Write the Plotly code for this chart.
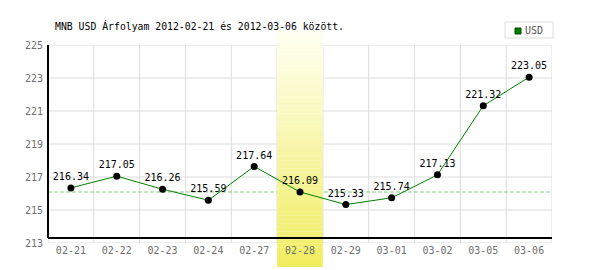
import plotly.graph_objects as go

# ---- data ----
dates = ["02-21", "02-22", "02-23", "02-24", "02-27", "02-28",
         "02-29", "03-01", "03-02", "03-05", "03-06"]
rates = [216.34, 217.05, 216.26, 215.59, 217.64, 216.09,
         215.33, 215.74, 217.13, 221.32, 223.05]
y_ticks = [213, 215, 217, 219, 221, 223, 225]
highlight_date = "02-28"
series_name = "USD"
title_text = "MNB USD Árfolyam 2012-02-21 és 2012-03-06 között."

MONO = "DejaVu Sans Mono"
GRID = "#dcdcdc"
LINE_GREEN = "#008000"

hi = dates.index(highlight_date)

shapes = []
# horizontal grid lines
for v in y_ticks:
    shapes.append(dict(type="line", xref="paper", yref="y", x0=0, x1=1, y0=v, y1=v,
                       line=dict(color=GRID, width=1), layer="below"))
# vertical grid lines at category boundaries
for i in range(len(dates) + 1):
    shapes.append(dict(type="line", xref="x", yref="paper", x0=i - 0.5, x1=i - 0.5,
                       y0=0, y1=1, line=dict(color=GRID, width=1), layer="below"))
# dashed reference line at highlighted day's value
shapes.append(dict(type="line", xref="paper", yref="y", x0=0, x1=1,
                   y0=rates[hi], y1=rates[hi],
                   line=dict(color="#88cc88", width=1, dash="4px,2px"), layer="below"))

# gradient highlight band (stacked strips)
top_c = (255, 255, 242)
bot_c = (240, 237, 96)
b_top, b_bot = 1.0707, -0.1212
N = 60
for k in range(N):
    t0 = k / N
    t1 = (k + 1) / N
    tm = (t0 + t1) / 2
    c = tuple(round(top_c[j] + (bot_c[j] - top_c[j]) * tm) for j in range(3))
    ya = b_top + (b_bot - b_top) * t0
    yb = b_top + (b_bot - b_top) * t1
    shapes.append(dict(type="rect", xref="x", yref="paper", x0=hi - 0.5, x1=hi + 0.5,
                       y0=yb, y1=ya + 0.001, line=dict(width=0),
                       fillcolor="rgb(%d,%d,%d)" % c, layer="below"))

# black axis lines
axis_y = 5 / 198
shapes.append(dict(type="line", xref="paper", yref="paper", x0=0, x1=1, y0=axis_y, y1=axis_y,
                   line=dict(color="black", width=2), layer="above"))
shapes.append(dict(type="line", xref="paper", yref="paper", x0=0, x1=0, y0=axis_y, y1=1,
                   line=dict(color="black", width=2), layer="above"))

# manual legend box
shapes.append(dict(type="rect", xref="paper", yref="paper",
                   x0=(505 - 48) / 504, x1=(553 - 48) / 504,
                   y0=(243 - 38) / 198, y1=(243 - 22) / 198,
                   line=dict(color=GRID, width=1), fillcolor="white", layer="above"))
shapes.append(dict(type="rect", xref="paper", yref="paper",
                   x0=(515 - 48) / 504, x1=(521 - 48) / 504,
                   y0=(243 - 34) / 198, y1=(243 - 28) / 198,
                   line=dict(color="#004400", width=1), fillcolor=LINE_GREEN, layer="above"))

fig = go.Figure()
fig.add_trace(go.Scatter(
    x=dates, y=rates, mode="lines+markers+text",
    text=["%.2f" % v for v in rates], textposition="top center",
    textfont=dict(family=MONO, size=10, color="black"),
    line=dict(color=LINE_GREEN, width=1),
    marker=dict(color="black", size=7),
    cliponaxis=False, showlegend=False, hoverinfo="skip",
))

fig.update_layout(
    width=600, height=270,
    margin=dict(l=48, r=48, t=45, b=27),
    paper_bgcolor="white", plot_bgcolor="white",
    shapes=shapes,
    title=dict(text=title_text, x=55 / 600, xanchor="left", xref="container",
               y=1 - 26.5 / 270, yanchor="middle", yref="container",
               font=dict(family=MONO, size=9.8, color="black")),
    annotations=[dict(text=series_name, xref="paper", yref="paper",
                      x=(523 - 48) / 504, y=(243 - 30.5) / 198,
                      xanchor="left", yanchor="middle", showarrow=False,
                      font=dict(family=MONO, size=10, color="#555555"))],
    xaxis=dict(type="category", range=[-0.5, len(dates) - 0.5], showgrid=False,
               zeroline=False, showline=False, ticks="",
               tickfont=dict(family=MONO, size=10, color="#707070")),
    yaxis=dict(range=[y_ticks[0], y_ticks[-1]], tickvals=y_ticks,
               ticktext=[str(v) for v in y_ticks], showgrid=False, zeroline=False,
               showline=False, ticks="", ticklabelstandoff=4,
               tickfont=dict(family=MONO, size=10, color="#707070")),
    showlegend=False,
)

fig.write_html("out.html")
